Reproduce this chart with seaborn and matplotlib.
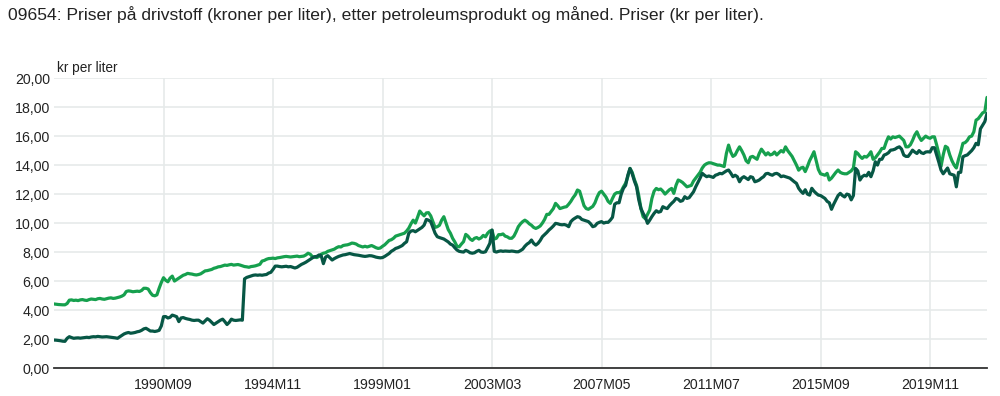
# -*- coding: utf-8 -*-
import numpy as np
import pandas as pd
import matplotlib.pyplot as plt
import seaborn as sns
from matplotlib.ticker import FuncFormatter

sns.set_theme(style="white")
plt.rcParams['font.family'] = ['Liberation Sans', 'DejaVu Sans']

title = ("09654: Priser på drivstoff (kroner per liter), etter petroleumsprodukt "
         "og måned. Priser (kr per liter).")
unit = "kr per liter"

# monthly categories 1986M07 .. 2022M01
months = [f"{p.year}M{p.month:02d}" for p in pd.period_range("1986-07", "2022-01", freq="M")]
tick_labels = ["1990M09", "1994M11", "1999M01", "2003M03",
               "2007M05", "2011M07", "2015M09", "2019M11"]
products = ["Bensin", "Diesel"]

# one row per calendar year (1986 starts in July)
bensin = [
    4.42, 4.40, 4.38, 4.37, 4.36, 4.36,
    4.45, 4.68, 4.70, 4.66, 4.68, 4.65, 4.70, 4.72, 4.68, 4.66, 4.72, 4.76,
    4.74, 4.72, 4.78, 4.80, 4.76, 4.74, 4.78, 4.82, 4.84, 4.80, 4.82, 4.86,
    4.90, 4.96, 5.05, 5.28, 5.32, 5.30, 5.26, 5.28, 5.30, 5.28, 5.35, 5.50,
    5.50, 5.45, 5.20, 5.02, 4.98, 5.05, 5.50, 5.90, 6.23, 6.05, 5.95, 6.20,
    6.34, 6.00, 6.10, 6.20, 6.30, 6.40, 6.45, 6.53, 6.50, 6.48, 6.44, 6.42,
    6.45, 6.50, 6.60, 6.70, 6.72, 6.76, 6.80, 6.88, 6.92, 6.98, 7.00, 7.05,
    7.10, 7.08, 7.12, 7.15, 7.10, 7.12, 7.14, 7.10, 7.05, 7.00, 6.98, 6.95,
    7.00, 7.02, 7.05, 7.10, 7.15, 7.38, 7.42, 7.50, 7.55, 7.56, 7.58, 7.55,
    7.60, 7.62, 7.65, 7.68, 7.70, 7.68, 7.66, 7.68, 7.70, 7.72, 7.68, 7.70,
    7.72, 7.80, 7.92, 7.85, 7.68, 7.65, 7.62, 7.70, 7.85, 7.92, 7.95, 8.05,
    8.10, 8.15, 8.20, 8.30, 8.37, 8.35, 8.45, 8.48, 8.50, 8.55, 8.62, 8.60,
    8.55, 8.45, 8.40, 8.35, 8.40, 8.35, 8.40, 8.45, 8.38, 8.30, 8.25, 8.28,
    8.40, 8.50, 8.65, 8.80, 8.85, 8.95, 9.10, 9.15, 9.20, 9.25, 9.30, 9.45,
    9.65, 9.95, 10.20, 10.00, 10.40, 10.83, 10.65, 10.50, 10.70, 10.72, 10.50, 10.10,
    9.70, 9.75, 9.85, 10.20, 10.44, 10.00, 9.55, 9.30, 8.95, 8.70, 8.40, 8.36,
    8.55, 8.72, 9.22, 9.10, 8.90, 8.80, 8.95, 9.00, 8.90, 8.98, 9.15, 9.05,
    9.30, 9.45, 9.50, 8.90, 8.95, 9.20, 9.20, 9.25, 9.10, 9.05, 8.95, 8.95,
    9.10, 9.40, 9.75, 9.95, 10.10, 10.20, 10.10, 9.95, 9.85, 9.70, 9.63, 9.70,
    9.80, 10.00, 10.25, 10.60, 10.60, 10.80, 11.00, 11.36, 11.20, 11.00, 11.05, 11.10,
    11.13, 11.30, 11.50, 11.75, 11.95, 12.28, 12.20, 11.70, 11.20, 11.00, 10.95, 11.05,
    11.15, 11.40, 11.80, 12.10, 12.20, 12.00, 11.80, 11.50, 11.36, 11.70, 12.00, 12.10,
    12.10, 12.20, 12.50, 12.75, 13.20, 13.77, 13.50, 13.00, 12.60, 11.90, 11.00, 10.44,
    10.30, 10.60, 10.90, 11.70, 12.20, 12.39, 12.30, 12.35, 12.20, 12.00, 12.15, 12.30,
    12.39, 12.05, 12.60, 12.97, 12.90, 12.80, 12.65, 12.50, 12.55, 12.60, 12.90, 13.10,
    13.31, 13.50, 13.80, 14.00, 14.10, 14.16, 14.15, 14.10, 14.05, 14.00, 14.00, 13.95,
    13.90, 14.80, 15.38, 14.90, 14.60, 14.70, 15.00, 15.26, 15.00, 14.70, 14.30, 14.16,
    14.55, 14.60, 14.50, 14.40, 14.80, 15.10, 14.90, 14.70, 14.85, 14.70, 14.75, 14.90,
    14.70, 14.85, 15.00, 14.90, 15.26, 15.00, 14.80, 14.60, 14.30, 14.00, 13.65, 13.80,
    13.85, 13.55, 13.90, 14.30, 14.60, 14.92, 14.30, 13.70, 13.40, 13.35, 13.30, 13.43,
    12.97, 13.10, 13.30, 13.50, 13.66, 13.50, 13.43, 13.40, 13.40, 13.50, 13.60, 13.80,
    14.92, 14.80, 14.60, 14.46, 14.60, 14.55, 14.70, 14.92, 14.40, 14.50, 14.70, 14.90,
    15.15, 15.15, 15.60, 15.95, 15.80, 15.95, 15.90, 15.95, 16.00, 15.85, 15.70, 15.26,
    15.26, 15.40, 15.70, 16.07, 16.30, 15.95, 15.70, 15.85, 16.00, 15.90, 15.85, 15.95,
    15.95, 15.40, 14.80, 13.90, 14.70, 15.30, 15.20, 14.70, 14.30, 14.00, 13.80, 14.40,
    14.90, 15.50, 15.55, 15.70, 15.95, 16.00, 16.30, 17.10, 17.20, 17.40, 17.60, 17.68,
    18.67,
]

diesel = [
    1.93, 1.92, 1.90, 1.88, 1.85, 1.84,
    2.05, 2.16, 2.10, 2.05, 2.07, 2.08, 2.06, 2.08, 2.10, 2.12, 2.10, 2.14,
    2.16, 2.15, 2.18, 2.16, 2.14, 2.15, 2.16, 2.14, 2.12, 2.10, 2.08, 2.05,
    2.15, 2.25, 2.35, 2.41, 2.45, 2.40, 2.42, 2.45, 2.50, 2.53, 2.60, 2.70,
    2.74, 2.65, 2.55, 2.55, 2.52, 2.55, 2.60, 2.90, 3.54, 3.55, 3.45, 3.50,
    3.65, 3.60, 3.54, 3.20, 3.45, 3.48, 3.42, 3.38, 3.35, 3.30, 3.28, 3.30,
    3.30, 3.20, 3.10, 3.25, 3.40, 3.30, 3.15, 3.00, 3.10, 3.20, 3.30, 3.37,
    3.20, 3.00, 3.15, 3.37, 3.30, 3.28, 3.30, 3.32, 3.30, 6.15, 6.25, 6.30,
    6.35, 6.40, 6.42, 6.40, 6.42, 6.40, 6.43, 6.45, 6.55, 6.60, 6.80, 7.03,
    7.03, 7.00, 6.98, 7.00, 7.02, 6.98, 7.00, 6.95, 6.90, 6.95, 7.05, 7.15,
    7.22, 7.30, 7.40, 7.50, 7.60, 7.68, 7.70, 7.80, 7.75, 7.20, 7.65, 7.75,
    7.60, 7.45, 7.55, 7.63, 7.70, 7.75, 7.80, 7.82, 7.86, 7.90, 7.86, 7.82,
    7.80, 7.78, 7.75, 7.72, 7.70, 7.72, 7.75, 7.74, 7.70, 7.65, 7.62, 7.60,
    7.62, 7.70, 7.80, 7.90, 8.05, 8.14, 8.25, 8.30, 8.37, 8.45, 8.60, 8.71,
    9.30, 9.45, 9.48, 9.40, 9.50, 9.60, 9.70, 9.86, 10.25, 10.20, 10.10, 9.70,
    9.30, 9.06, 9.00, 8.95, 8.90, 8.80, 8.70, 8.55, 8.48, 8.30, 8.14, 8.05,
    8.02, 8.00, 8.12, 8.05, 7.95, 7.92, 7.95, 8.05, 8.12, 8.00, 7.98, 8.02,
    8.30, 8.60, 9.52, 8.05, 8.00, 8.05, 8.08, 8.05, 8.07, 8.06, 8.05, 8.07,
    8.05, 8.02, 8.02, 8.10, 8.20, 8.40, 8.55, 8.65, 8.83, 8.60, 8.48, 8.60,
    8.80, 9.06, 9.20, 9.35, 9.52, 9.65, 9.80, 9.98, 9.95, 9.90, 9.88, 9.90,
    9.85, 9.75, 10.10, 10.25, 10.35, 10.44, 10.40, 10.25, 10.20, 10.15, 10.10, 9.95,
    9.75, 9.80, 9.98, 10.05, 10.10, 10.00, 10.05, 10.05, 10.20, 10.40, 11.30, 11.40,
    11.40, 12.00, 12.40, 12.60, 13.30, 13.77, 13.40, 12.90, 12.50, 11.60, 11.00, 10.67,
    10.40, 9.98, 10.20, 10.45, 10.67, 10.85, 10.75, 10.80, 11.13, 11.05, 11.00, 11.20,
    11.36, 11.50, 11.70, 11.65, 11.50, 11.55, 11.82, 11.70, 11.75, 11.95, 12.16, 12.50,
    12.80, 13.10, 13.43, 13.30, 13.20, 13.25, 13.20, 13.15, 13.30, 13.35, 13.43, 13.40,
    13.50, 13.60, 13.66, 13.45, 13.20, 13.30, 13.20, 12.85, 13.10, 13.20, 13.10, 13.00,
    13.20, 13.15, 12.85, 12.90, 12.97, 13.10, 13.20, 13.40, 13.43, 13.35, 13.30, 13.40,
    13.43, 13.35, 13.20, 13.25, 13.20, 13.15, 13.10, 12.97, 12.85, 12.74, 12.40, 12.20,
    12.05, 12.30, 12.00, 11.93, 12.40, 12.20, 12.05, 11.93, 11.90, 11.80, 11.70, 11.50,
    11.40, 10.95, 11.30, 11.60, 11.90, 12.05, 11.90, 11.80, 12.00, 11.95, 11.60, 11.90,
    13.77, 13.60, 12.97, 13.20, 13.30, 13.25, 13.50, 13.20, 13.60, 14.23, 14.00, 14.40,
    14.40, 14.69, 14.75, 14.85, 15.03, 15.05, 15.10, 15.20, 15.26, 15.10, 14.69, 14.60,
    14.60, 14.80, 15.03, 14.90, 14.80, 15.00, 14.85, 14.80, 14.90, 14.92, 14.90, 15.20,
    15.20, 14.70, 14.20, 13.66, 13.40, 13.60, 13.80, 13.40, 13.35, 13.30, 12.50, 13.50,
    13.50, 14.57, 14.65, 14.70, 14.85, 15.00, 15.20, 15.50, 15.40, 16.50, 16.75, 17.00,
    17.56,
]

n = len(months)
assert len(bensin) == n and len(diesel) == n

df = pd.DataFrame({
    "maned": np.tile(np.arange(n), 2),
    "pris": bensin + diesel,
    "produkt": [products[0]] * n + [products[1]] * n,
})

fig = plt.figure(figsize=(10, 3.96), dpi=100)
ax = fig.add_axes([0.054, 0.0707, 0.933, 0.732])

sns.lineplot(data=df, x="maned", y="pris", hue="produkt",
             palette=["#16a04e", "#075745"], linewidth=2.3,
             legend=False, ax=ax)

ax.set_xlim(0, n - 1)
ax.set_ylim(0, 20)
ax.set_yticks(np.arange(0, 21, 2))
ax.yaxis.set_major_formatter(FuncFormatter(lambda v, p: f"{v:.2f}".replace(".", ",")))
ax.set_xticks([months.index(t) for t in tick_labels])
ax.set_xticklabels(tick_labels)
ax.set_xlabel("")
ax.set_ylabel("")

ax.grid(True, color="#e6eaea", linewidth=1.2)
ax.set_axisbelow(True)
for s in ["top", "right", "left"]:
    ax.spines[s].set_visible(False)
ax.spines["bottom"].set_color("#333333")
ax.spines["bottom"].set_linewidth(1.3)
ax.tick_params(axis="both", length=0, labelsize=10.2, colors="#222222")
ax.tick_params(axis="y", pad=3)
ax.tick_params(axis="x", pad=7)

fig.text(0.008, 1 - 15 / 396, title, fontsize=12.6, color="#222222", va="center")
fig.text(0.057, 1 - 68 / 396, unit, fontsize=9.8, color="#222222", va="center")

fig.savefig("out.png", dpi=100)
